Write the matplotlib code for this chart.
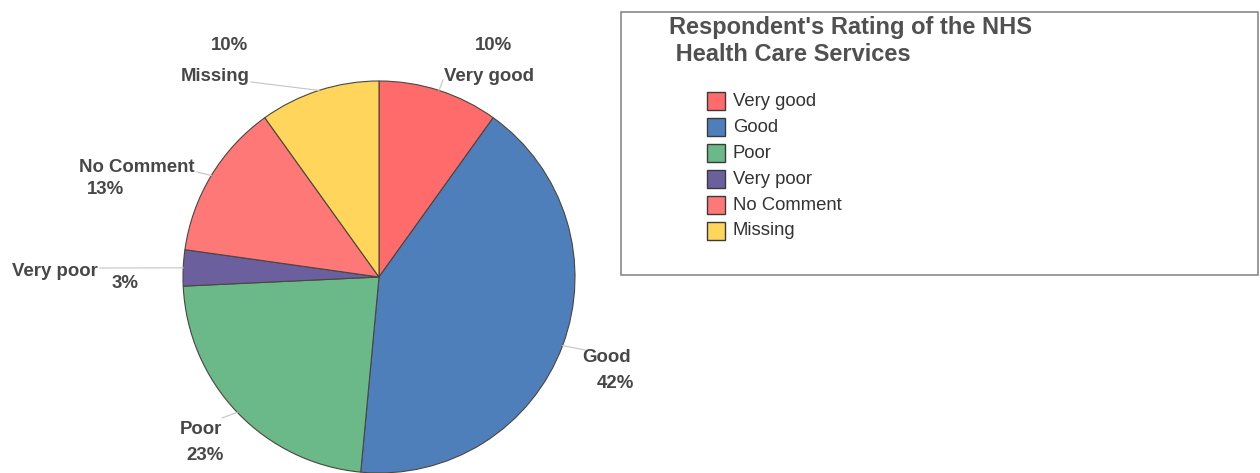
import numpy as np
import matplotlib
matplotlib.use('Agg')
from matplotlib import pyplot as plt
from matplotlib.patches import Rectangle

categories = ['Very good', 'Good', 'Poor', 'Very poor', 'No Comment', 'Missing']
percents = [10, 42, 23, 3, 13, 10]
colors = ['#ff6b6b', '#4f7fbb', '#6bb888', '#6c5f9e', '#ff7878', '#ffd55c']
title = "Respondent's Rating of the NHS\n Health Care Services"

W, H = 1260, 473
plt.rcParams['font.family'] = ['Liberation Sans', 'DejaVu Sans']
txt = '#474747'

fig = plt.figure(figsize=(W / 100, H / 100), dpi=100)
ax = fig.add_axes([0, 0, 1, 1])

# pie in pixel units, y measured from the bottom
cx, cy, r = 379, H - 277, 196
wedges, _ = ax.pie(percents, colors=colors, startangle=90, counterclock=False,
                   center=(cx, cy), radius=r,
                   wedgeprops=dict(edgecolor='#4a4640', linewidth=0.8))
ax.set_xlim(0, W)
ax.set_ylim(0, H)
ax.set_aspect('equal')
ax.axis('off')

# label text positions (name, percent) and where the leader line starts
label_pos = {
    'Very good': ((489, 77), (493, 46), (443, 80)),
    'Good': ((607, 357), (615, 383), (585, 350)),
    'Poor': ((201, 430), (205, 455), (222, 418)),
    'Very poor': ((55, 272), (125, 284), (100, 268)),
    'No Comment': ((137, 168), (106, 190), (197, 172)),
    'Missing': ((215, 77), (229, 46), (251, 82)),
}

for w, name, pct in zip(wedges, categories, percents):
    mid = np.deg2rad((w.theta1 + w.theta2) / 2)
    ex, ey = cx + r * np.cos(mid), cy + r * np.sin(mid)
    (nx, ny), (px, py), (lx, ly) = label_pos[name]
    ax.plot([lx, ex], [H - ly, ey], color='#c4c4c4', lw=0.8)
    ax.text(nx, H - ny, name, ha='center', va='center', fontsize=13.4,
            fontweight='bold', color=txt)
    ax.text(px, H - py, f'{pct}%', ha='center', va='center', fontsize=13.4,
            fontweight='bold', color=txt)

# legend box
ax.add_patch(Rectangle((621, H - 275), 637, 263, fill=False, edgecolor='#808080', lw=1.1))
ax.text(669, H - 41, title, ha='left', va='center', fontsize=17, fontweight='bold',
        color='#505050', linespacing=1.25)

for i, (name, c) in enumerate(zip(categories, colors)):
    y = 101 + i * 26
    ax.add_patch(Rectangle((707, H - y - 9), 18, 18, facecolor=c, edgecolor='#3a3a3a', lw=1))
    ax.text(733, H - y, name, ha='left', va='center', fontsize=13.3, color='#333333')

fig.savefig('out.png', dpi=100)
